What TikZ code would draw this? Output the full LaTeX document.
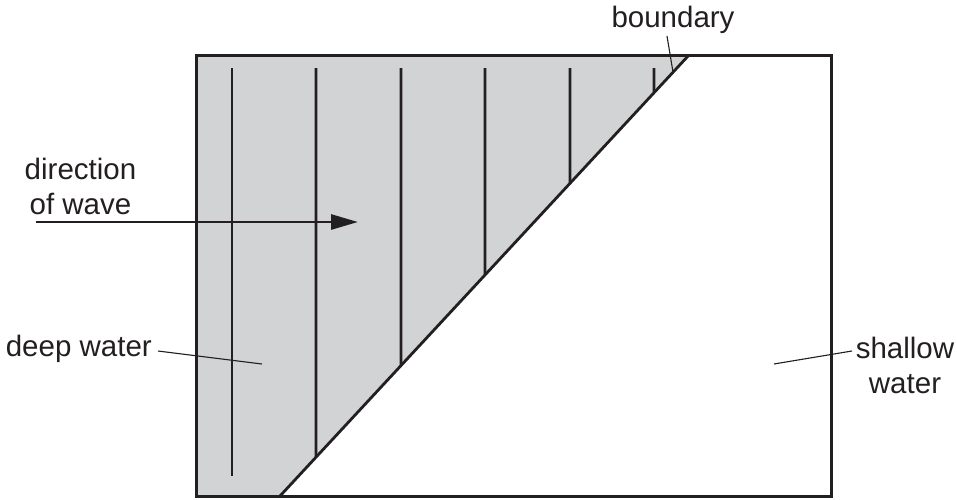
\documentclass[tikz,border=0pt]{standalone}
\usepackage{fontspec}
\setmainfont{Liberation Sans}
\usetikzlibrary{arrows.meta}
\definecolor{deepgrey}{RGB}{209,211,212}
\definecolor{ink}{RGB}{35,31,32}
\begin{document}
\begin{tikzpicture}[x=1pt,y=-1pt,
  lbl/.style={font=\fontsize{29.5}{35}\selectfont, text=ink, inner sep=0pt},
  wavefront/.style={draw=ink, line width=2.8pt},
  frame/.style={draw=ink, line width=3pt},
  leader/.style={draw=ink, line width=1.1pt}]
\useasboundingbox (0,0) rectangle (957,499);
% corners and boundary
\coordinate (TL) at (196,55);
\coordinate (TR) at (831,55);
\coordinate (BR) at (831,496);
\coordinate (BL) at (196,496);
\coordinate (Btop) at (689,55);
\coordinate (Bbot) at (280,496);
% deep water fill
\fill[deepgrey] (TL) -- (Btop) -- (Bbot) -- (BL) -- cycle;
% wavefronts
\coordinate (w1t) at (232,68); \coordinate (w1b) at (232,476);
\draw[wavefront] (w1t) -- (w1b);
\foreach \x/\n in {316/2,401/3,485/4,570/5,654/6}{
  \coordinate (w\n t) at (\x,68);
  \coordinate (w\n b) at (intersection of Btop--Bbot and {\x,0}--{\x,499});
  \draw[wavefront] (w\n t) -- (w\n b);
}
% boundary
\draw[wavefront] (Bbot) -- (Btop);
% frame
\draw[frame, line join=miter] (TL) -- (TR) -- (BR) -- (BL) -- cycle;
% direction arrow
\coordinate (arrS) at (36,222);
\coordinate (arrE) at (358,222);
\draw[draw=ink, line width=2.8pt, -{Triangle[length=27pt,width=15pt]}] (arrS) -- (arrE);
% labels
\node[lbl, align=center] (dir) at (80.5,186) {direction\\of wave};
\node[lbl, anchor=east] (deep) at (152,349) {deep water};
\node[lbl, align=center] (shallow) at (905,365) {shallow\\water};
\node[lbl] (bnd) at (673,20) {boundary};
% leaders
\coordinate (deepT) at (262,364);
\coordinate (shalT) at (774,364);
\coordinate (bndT) at (673,72);
\draw[leader] (158,351) -- (deepT);
\draw[leader] (852,351) -- (shalT);
\draw[leader] (667,36) -- (bndT);
\end{tikzpicture}
\end{document}
